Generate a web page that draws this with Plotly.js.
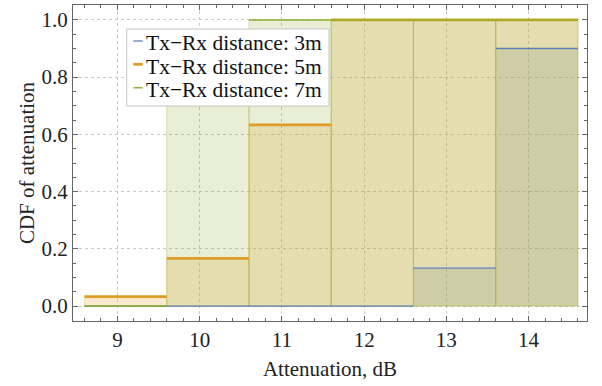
<!DOCTYPE html>
<html>
<head>
<meta charset="utf-8">
<script src="https://cdn.plot.ly/plotly-3.0.1.min.js"></script>
<style>html,body{margin:0;padding:0;background:#fff;}#chart{width:602px;height:386px;}</style>
</head>
<body>
<div id="chart"></div>
<script>
// ---- data ----
const binEdges = [8.6, 9.6, 10.6, 11.6, 12.6, 13.6, 14.6];
const cdf3m = [0, 0, 0, 0, 0.133, 0.9];
const cdf5m = [0.033, 0.167, 0.633, 1.0, 1.0, 1.0];
const cdf7m = [0, 0.9, 1.0, 1.0, 1.0, 1.0];
const seriesNames = ['Tx\u2212Rx distance: 3m', 'Tx\u2212Rx distance: 5m', 'Tx\u2212Rx distance: 7m'];
const xTickVals = [9, 10, 11, 12, 13, 14];
const xTickText = ['9', '10', '11', '12', '13', '14'];
const yTickVals = [0, 0.2, 0.4, 0.6, 0.8, 1.0];
const yTickText = ['0.0', '0.2', '0.4', '0.6', '0.8', '1.0'];

// ---- styles ----
const colors = ['#5E81B5', '#E19C24', '#8FB032'];
const fills = ['rgba(94,129,181,0.2)', 'rgba(225,156,36,0.22)', 'rgba(143,176,50,0.2)'];
const edges = ['rgba(94,129,181,0.0)', 'rgba(200,180,60,0.25)', 'rgba(170,180,50,0.4)'];
const lineW = [1.3, 2.8, 1.5];
const FONT = 'Liberation Serif';

const centers = binEdges.slice(0, -1).map((e, i) => (e + binEdges[i + 1]) / 2);
const widths = binEdges.slice(0, -1).map((e, i) => binEdges[i + 1] - e);
const allSeries = [cdf3m, cdf5m, cdf7m];

const traces = [];
allSeries.forEach((vals, s) => {
  traces.push({
    type: 'bar', x: centers, y: vals, width: widths, base: 0,
    marker: {color: fills[s], line: {color: edges[s], width: 1}},
    showlegend: false, hoverinfo: 'skip'
  });
});
allSeries.forEach((vals, s) => {
  const lx = [], ly = [];
  vals.forEach((v, i) => { lx.push(binEdges[i], binEdges[i + 1], null); ly.push(v, v, null); });
  traces.push({
    type: 'scatter', mode: 'lines', x: lx, y: ly, name: seriesNames[s],
    line: {color: colors[s], width: lineW[s]}, showlegend: false, hoverinfo: 'skip'
  });
});

// legend (drawn as box + dashes + text)
const L = 73, T = 5, W = 514, H = 316;
const px = x => (x - L) / W, py = y => (T + H - y) / H;
const shapes = [
  {type: 'rect', xref: 'paper', yref: 'paper', x0: px(126.7), x1: px(329), y0: py(106), y1: py(29),
   line: {color: '#c4c4c4', width: 1}, fillcolor: '#ffffff', layer: 'above'}
];
const annotations = [];
const rowY = [41, 64.3, 87.7];
rowY.forEach((yy, s) => {
  shapes.push({type: 'line', xref: 'paper', yref: 'paper', x0: px(133.5), x1: px(142.7), y0: py(yy), y1: py(yy),
    line: {color: colors[s], width: lineW[s]}, layer: 'above'});
  annotations.push({xref: 'paper', yref: 'paper', x: px(144), y: py(yy + 2.5), xanchor: 'left', yanchor: 'middle',
    text: seriesNames[s], showarrow: false, font: {family: FONT, size: 21.5, color: '#111'}});
});

const axisCommon = {
  ticks: 'inside', ticklen: 5, tickwidth: 1, tickcolor: '#666',
  showline: true, linecolor: '#666', linewidth: 1, mirror: 'allticks',
  showgrid: true, gridcolor: '#c8c8c8', griddash: 'dot', gridwidth: 1,
  zeroline: false
};

const layout = {
  width: 602, height: 386,
  margin: {l: 73, r: 15, t: 5, b: 65},
  paper_bgcolor: '#fff', plot_bgcolor: '#fff',
  barmode: 'overlay', showlegend: false,
  font: {family: FONT, color: '#222'},
  xaxis: Object.assign({}, axisCommon, {
    range: [8.46, 14.71], tickmode: 'array', tickvals: xTickVals, ticktext: xTickText,
    tickfont: {family: FONT, size: 21, color: '#222'},
    minor: {tickmode: 'linear', tick0: 0, dtick: 0.2, ticks: 'inside', ticklen: 3, tickcolor: '#666', showgrid: false},
    title: {text: 'Attenuation, dB', font: {family: FONT, size: 21, color: '#222'}, standoff: 10}
  }),
  yaxis: Object.assign({}, axisCommon, {
    range: [-0.052, 1.052], tickmode: 'array', tickvals: yTickVals, ticktext: yTickText,
    tickfont: {family: FONT, size: 21, color: '#222'},
    minor: {tickmode: 'linear', tick0: 0, dtick: 0.05, ticks: 'inside', ticklen: 3, tickcolor: '#666', showgrid: false},
    title: {text: 'CDF of attenuation', font: {family: FONT, size: 21, color: '#222'}, standoff: 1}
  }),
  shapes: shapes, annotations: annotations
};

Plotly.newPlot('chart', traces, layout, {displayModeBar: false, staticPlot: true});
</script>
</body>
</html>
